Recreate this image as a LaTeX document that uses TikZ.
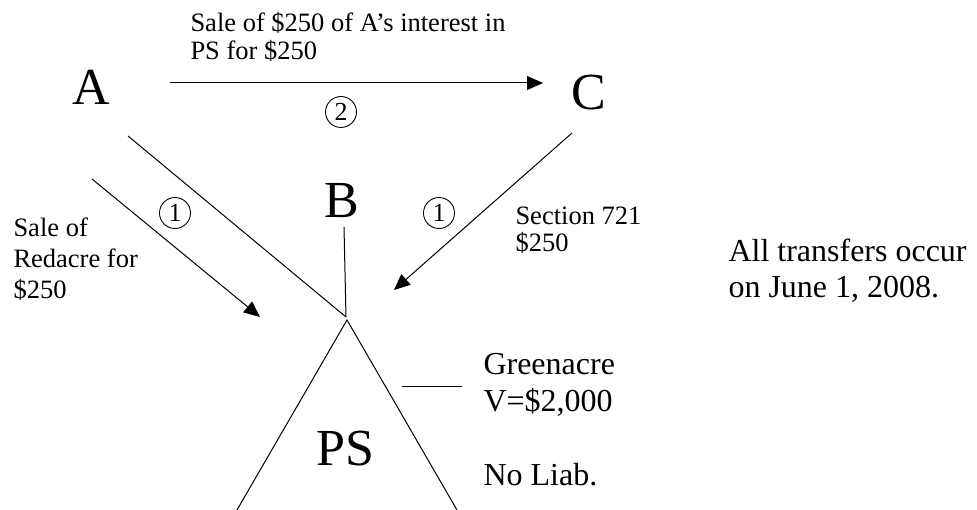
\documentclass[tikz,border=0pt]{standalone}
\usepackage{fontspec}
\setmainfont{Liberation Serif}
\usetikzlibrary{arrows.meta}
\begin{document}
\begin{tikzpicture}[x=1pt,y=-1pt,
  line width=1pt,
  party/.style={inner sep=0pt,anchor=base,font=\fontsize{52}{60}\selectfont},
  small/.style={inner sep=0pt,anchor=base west,font=\fontsize{26.5}{31}\selectfont},
  large/.style={inner sep=0pt,anchor=base west,font=\fontsize{32}{37}\selectfont},
  stepno/.style={draw,circle,inner sep=0pt,minimum size=31pt,line width=0.9pt,font=\fontsize{26}{30}\selectfont},
  flow/.style={-{Triangle[length=16pt,width=14pt]}}]
\useasboundingbox (0,0) rectangle (977,510);

% parties
\node[party] (A) at (91.5,105) {A};
\node[party] (C) at (589,110) {C};
\node[party] (B) at (341.5,218) {B};
\node[party] (PS) at (345.5,465) {PS};

% end points of the connectors
\coordinate (acStart) at (170,83);
\coordinate (acEnd) at (543,83);
\coordinate (aLineTop) at (128,136);
\coordinate (apex) at (346,317);
\coordinate (bStem) at (344,227);
\coordinate (redStart) at (92,179);
\coordinate (redEnd) at (260,317);
\coordinate (cStart) at (572,133);
\coordinate (cEnd) at (394,290);
\coordinate (psTop) at (347,320);
\coordinate (psLeft) at (237,510);
\coordinate (psRight) at (457,510);
\coordinate (greenL) at (402,387);
\coordinate (greenR) at (462,387);

% connectors
\draw[flow] (acStart) -- (acEnd);
\draw (aLineTop) -- (apex);
\draw (bStem) -- (apex);
\draw[flow] (redStart) -- (redEnd);
\draw[flow] (cStart) -- (cEnd);
\draw (psLeft) -- (psTop) -- (psRight);
\draw (greenL) -- (greenR);

% step numbers
\node[stepno] (s2) at (341,112) {2};
\node[stepno] (s1a) at (175,213) {1};
\node[stepno] (s1b) at (439,213) {1};

% labels
\node[small] (sale1) at (190,32) {Sale of \$250 of A’s interest in};
\node[small] (sale2) at (190,60) {PS for \$250};
\node[small] (red1) at (13,237) {Sale of};
\node[small] (red2) at (13,268) {Redacre for};
\node[small] (red3) at (13,299) {\$250};
\node[small] (sec1) at (515,225) {Section 721};
\node[small] (sec2) at (515,252) {\$250};
\node[large] (green1) at (483,374) {Greenacre};
\node[large] (green2) at (483,411) {V=\$2,000};
\node[large] (liab) at (483,485) {No Liab.};
\node[large] (note1) at (728,262) {All transfers occur};
\node[large] (note2) at (728,298) {on June 1, 2008.};
\end{tikzpicture}
\end{document}
